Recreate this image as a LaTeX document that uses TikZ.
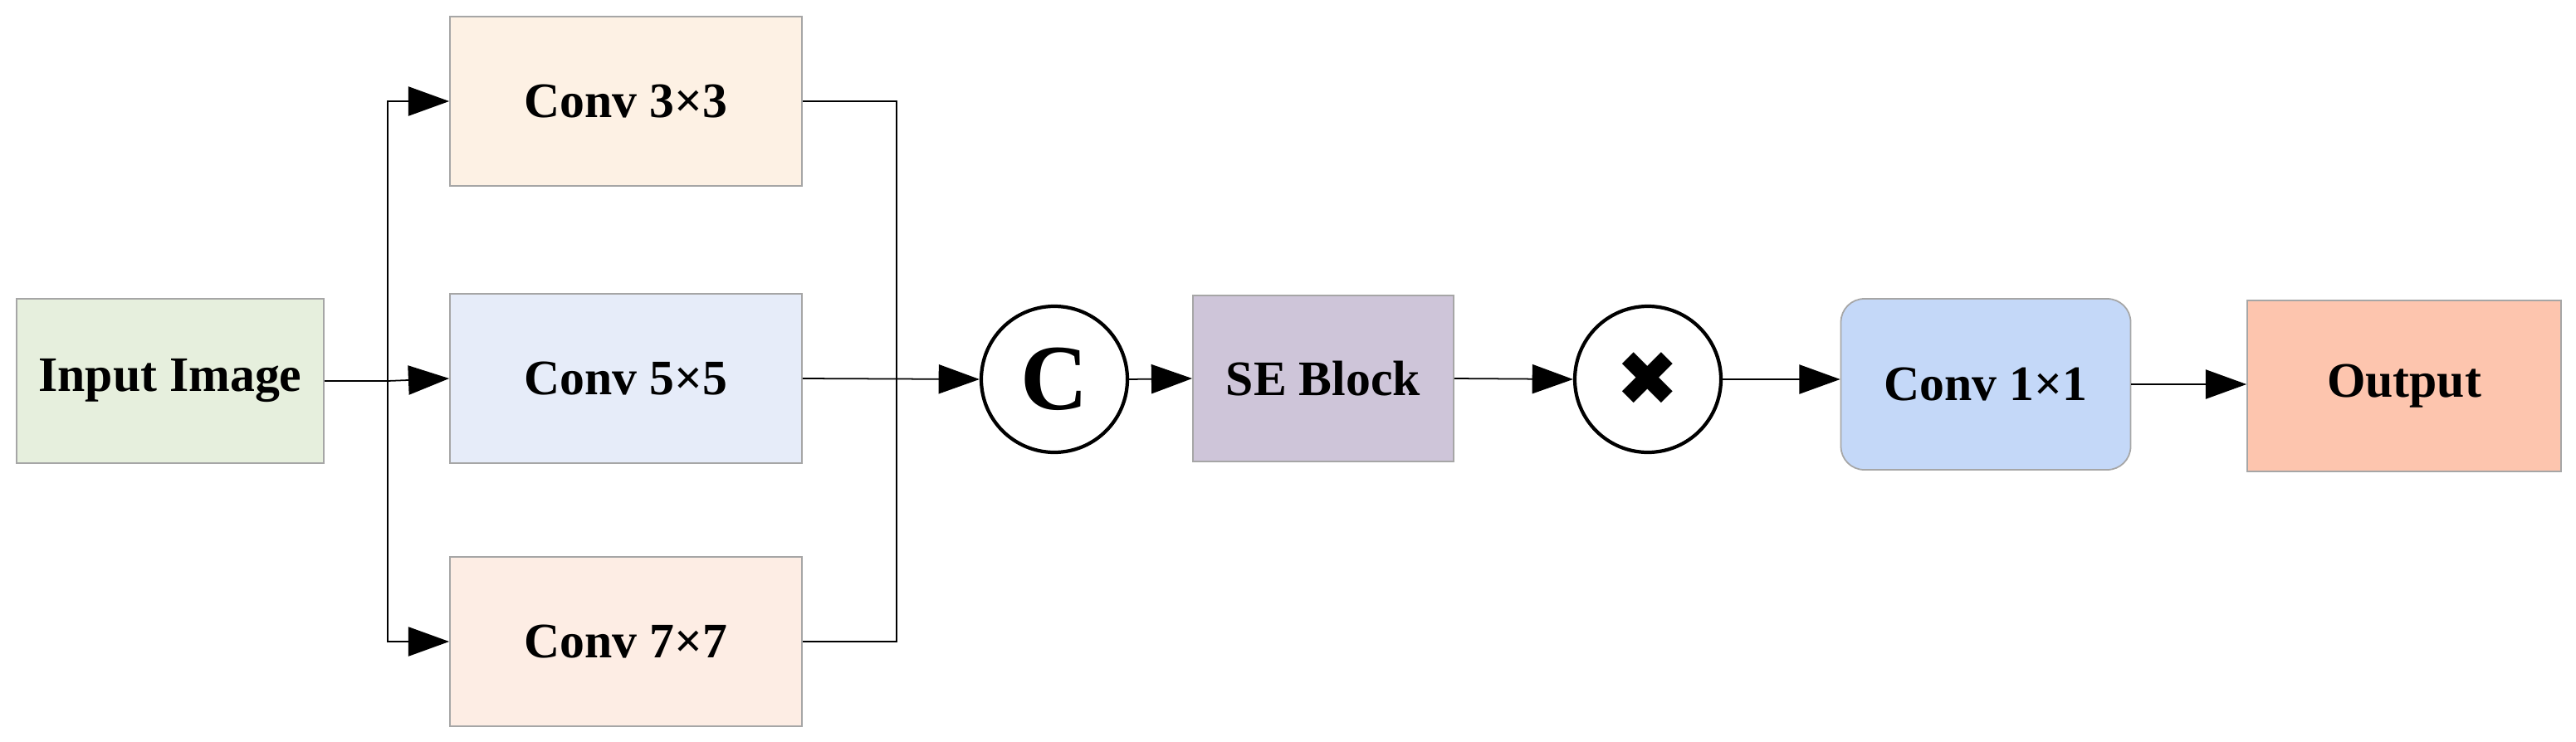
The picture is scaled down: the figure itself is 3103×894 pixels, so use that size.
\documentclass[tikz,border=0pt]{standalone}
\usepackage{fontspec}
\setmainfont{Liberation Serif}
\newfontfamily\djv{DejaVu Sans}
\usetikzlibrary{arrows.meta,shapes.geometric}
\definecolor{cin}{HTML}{E6EFDD}
\definecolor{cthree}{HTML}{FDF1E4}
\definecolor{cfive}{HTML}{E6ECF9}
\definecolor{cseven}{HTML}{FDEDE4}
\definecolor{cse}{HTML}{CEC5D9}
\definecolor{cone}{HTML}{C4D8F8}
\definecolor{cout}{HTML}{FDC5AE}
\begin{document}
\begin{tikzpicture}[x=0.1mm,y=-0.1mm,
  box/.style={draw=gray!70,line width=0.5pt,font=\fontsize{17}{20}\selectfont\bfseries,inner sep=0pt},
  circ/.style={draw=black,line width=1.2pt,circle,minimum size=176mm/10,inner sep=0pt},
  arr/.style={-{Triangle[length=14pt,width=10pt]},line width=0.5pt},
  ln/.style={line width=0.5pt}]
\useasboundingbox (0,0) rectangle (3103,894);
\path[fill=white] (0,0) rectangle (3103,894);
\node[box,fill=cin,minimum width=37mm,minimum height=19.8mm] (in) at (205,459) {Input Image};
\node[box,fill=cthree,minimum width=42.4mm,minimum height=20.4mm] (c3) at (754,122) {Conv 3×3};
\node[box,fill=cfive,minimum width=42.4mm,minimum height=20.4mm] (c5) at (754,456) {Conv 5×5};
\node[box,fill=cseven,minimum width=42.4mm,minimum height=20.4mm] (c7) at (754,773) {Conv 7×7};
\node[circ] (cc) at (1270,457) {\fontsize{32}{34}\selectfont\bfseries C};
\node[box,fill=cse,minimum width=31.4mm,minimum height=20mm] (se) at (1594,456) {SE Block};
\node[circ] (xx) at (1985,457) {\djv\fontsize{26}{28}\selectfont ✖};
\node[box,fill=cone,rounded corners=8pt,minimum width=34.9mm,minimum height=20.6mm] (c1) at (2392,463) {Conv 1×1};
\node[box,fill=cout,minimum width=37.8mm,minimum height=20.6mm] (out) at (2896,465) {Output};
\coordinate (b) at (467,459);
\coordinate (m) at (1080,456);
\draw[ln] (in.east) -- (b);
\draw[arr] (b) -- (c5.west);
\draw[arr] (b) |- (c3.west);
\draw[arr] (b) |- (c7.west);
\draw[ln] (c3.east) -| (m);
\draw[ln] (c7.east) -| (m);
\draw[arr] (c5.east) -- (cc.west);
\draw[arr] (cc.east) -- (se.west);
\draw[arr] (se.east) -- (xx.west);
\draw[arr] (xx.east) -- (c1.west |- xx.east);
\draw[arr] (c1.east) -- (out.west |- c1.east);
\end{tikzpicture}
\end{document}
